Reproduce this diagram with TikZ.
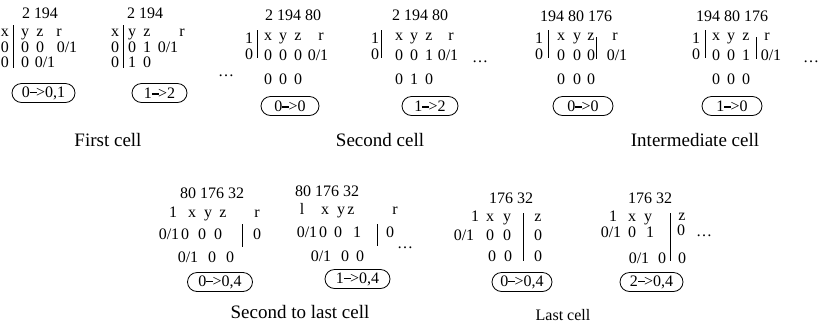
\documentclass[tikz,border=0pt]{standalone}
\usepackage{fontspec}
\setmainfont{Liberation Serif}
\newcommand\myarr{\rule[0.23em]{0.42em}{0.1em}\kern-0.4pt>}
\begin{document}
\begin{tikzpicture}[x=1pt,y=-1pt,
 t/.style={inner sep=0pt,anchor=base,font=\fontsize{16}{16}\selectfont},
 captext/.style={inner sep=0pt,anchor=base,font=\fontsize{19}{19}\selectfont},
 capsm/.style={inner sep=0pt,anchor=base,font=\fontsize{16}{16}\selectfont},
 oval/.style={draw,line width=0.8pt,rounded corners=9.5pt,minimum height=19pt,inner sep=0pt,font=\fontsize{16}{16}\selectfont},
 bar/.style={line width=0.8pt}]
\useasboundingbox (0,0) rectangle (828,325);
% ---------- First cell, left
\node[t] (Ah) at (40,18) {2 194};
\node[t] (Ax) at (5,36) {x};
\node[t] (Ay) at (25,36) {y};
\node[t] (Az) at (40,36) {z};
\node[t] (Ar) at (59,36) {r};
\node[t] (A20) at (5,52) {0};
\node[t] (A21) at (25,52) {0};
\node[t] (A22) at (40,52) {0};
\node[t] (A23) at (67,52) {0/1};
\node[t] (A30) at (5,67) {0};
\node[t] (A31) at (25,67) {0};
\node[t] (A32) at (45,67) {0/1};
\draw[bar] (13,25) -- (13,68);
\node[oval,minimum width=63pt] (Ao) at (43.5,93) {0\myarr0,1};
% ---------- First cell, right
\node[t] (Bh) at (145,18) {2 194};
\node[t] (Bx) at (115,36) {x};
\node[t] (By) at (132,36) {y};
\node[t] (Bz) at (147,36) {z};
\node[t] (Br) at (182,36) {r};
\node[t] (B20) at (115,52) {0};
\node[t] (B21) at (132,52) {0};
\node[t] (B22) at (147,52) {1};
\node[t] (B23) at (168,52) {0/1};
\node[t] (B30) at (115,67) {0};
\node[t] (B31) at (132,67) {1};
\node[t] (B32) at (147,67) {0};
\draw[bar] (123,25) -- (123,68);
\node[oval,minimum width=55pt] (Bo) at (159.5,93) {1\myarr2};
\node[t] (Bd) at (226,76) {\dots};
\node[captext] (cA) at (108,146) {First cell};
% ---------- Second cell, left
\node[t] (Ch) at (293,20) {2 194 80};
\node[t] (Cl) at (249,43) {1};
\node[t] (Cm) at (249,59) {0};
\draw[bar] (257,30) -- (257,58);
\node[t] (Cx) at (268,40) {x};
\node[t] (Cy) at (283,40) {y};
\node[t] (Cz) at (298,40) {z};
\node[t] (Cr) at (321,40) {r};
\node[t] (C20) at (268,60) {0};
\node[t] (C21) at (283,60) {0};
\node[t] (C22) at (298,60) {0};
\node[t] (C23) at (318,60) {0/1};
\node[t] (C30) at (268,84) {0};
\node[t] (C31) at (283,84) {0};
\node[t] (C32) at (298,84) {0};
\node[oval,minimum width=58pt] (Co) at (290,106) {0\myarr0};
% ---------- Second cell, right
\node[t] (Dh) at (420,20) {2 194 80};
\node[t] (Dl) at (375,43) {1};
\node[t] (Dm) at (375,59) {0};
\draw[bar] (381,30) -- (381,58);
\node[t] (Dx) at (399,40) {x};
\node[t] (Dy) at (414,40) {y};
\node[t] (Dz) at (429,40) {z};
\node[t] (Dr) at (451,40) {r};
\node[t] (D20) at (399,60) {0};
\node[t] (D21) at (414,60) {0};
\node[t] (D22) at (429,60) {1};
\node[t] (D23) at (448,60) {0/1};
\node[t] (D30) at (399,84) {0};
\node[t] (D31) at (414,84) {1};
\node[t] (D32) at (429,84) {0};
\node[t] (Dd) at (480,62) {\dots};
\node[oval,minimum width=56pt] (Do) at (430,106) {1\myarr2};
\node[captext] (cB) at (380,146) {Second cell};
% ---------- Intermediate cell, left
\node[t] (Eh) at (576,21) {194 80 176};
\node[t] (El) at (539,43) {1};
\node[t] (Em) at (539,59) {0};
\draw[bar] (548,30) -- (548,58);
\node[t] (Ex) at (561,40) {x};
\node[t] (Ey) at (577,40) {y};
\node[t] (Ez) at (591,40) {z};
\draw[bar] (596,37) -- (596,59);
\node[t] (Er) at (615,40) {r};
\node[t] (E20) at (561,60) {0};
\node[t] (E21) at (577,60) {0};
\node[t] (E22) at (591,60) {0};
\node[t] (E23) at (617,60) {0/1};
\node[t] (E30) at (561,84) {0};
\node[t] (E31) at (577,84) {0};
\node[t] (E32) at (591,84) {0};
\node[oval,minimum width=60pt] (Eo) at (583,106) {0\myarr0};
% ---------- Intermediate cell, right
\node[t] (Fh) at (732,21) {194 80 176};
\node[t] (Fl) at (696,43) {1};
\node[t] (Fm) at (696,59) {0};
\draw[bar] (705,30) -- (705,58);
\node[t] (Fx) at (716,40) {x};
\node[t] (Fy) at (731,40) {y};
\node[t] (Fz) at (746,40) {z};
\draw[bar] (756,37) -- (756,59);
\node[t] (Fr) at (767,40) {r};
\node[t] (F20) at (716,60) {0};
\node[t] (F21) at (731,60) {0};
\node[t] (F22) at (746,60) {1};
\node[t] (F23) at (771,60) {0/1};
\node[t] (F30) at (716,84) {0};
\node[t] (F31) at (731,84) {0};
\node[t] (F32) at (746,84) {0};
\node[t] (Fd) at (811,62) {\dots};
\node[oval,minimum width=60pt] (Fo) at (732,106) {1\myarr0};
\node[captext] (cC) at (695,146) {Intermediate cell};
% ---------- Second to last cell, left
\node[t] (Gh) at (212,198) {80 176 32};
\node[t] (Gl) at (173,217) {1};
\node[t] (Gx) at (192,217) {x};
\node[t] (Gy) at (208,217) {y};
\node[t] (Gz) at (223,217) {z};
\node[t] (Gr) at (257,217) {r};
\node[t] (G20) at (169,239) {0/1};
\node[t] (G21) at (185,239) {0};
\node[t] (G22) at (202,239) {0};
\node[t] (G23) at (218,239) {0};
\draw[bar] (242,224) -- (242,247);
\node[t] (G24) at (257,239) {0};
\node[t] (G30) at (188,262) {0/1};
\node[t] (G31) at (212,262) {0};
\node[t] (G32) at (230,262) {0};
\node[oval,minimum width=65pt] (Go) at (220,282) {0\myarr0,4};
% ---------- Second to last cell, right
\node[t] (Hh) at (327,196) {80 176 32};
\node[t] (Hl) at (302,214) {l};
\node[t] (Hx) at (325,214) {x};
\node[t] (Hy) at (341,214) {y};
\node[t] (Hz) at (351,214) {z};
\node[t] (Hr) at (395,214) {r};
\node[t] (H20) at (307,237) {0/1};
\node[t] (H21) at (323,237) {0};
\node[t] (H22) at (338,237) {0};
\node[t] (H23) at (357,237) {1};
\draw[bar] (377,224) -- (377,246);
\node[t] (H24) at (390,237) {0};
\node[t] (Hd) at (405,248) {\dots};
\node[t] (H30) at (321,261) {0/1};
\node[t] (H31) at (345,261) {0};
\node[t] (H32) at (360,261) {0};
\node[oval,minimum width=65pt] (Ho) at (357.5,279) {1\myarr0,4};
\node[captext] (cD) at (300,318) {Second to last cell};
% ---------- Last cell, left
\node[t] (Ih) at (511,203) {176 32};
\node[t] (Il) at (475,221) {1};
\node[t] (Ix) at (490,221) {x};
\node[t] (Iy) at (507,221) {y};
\node[t] (Iz) at (538,221) {z};
\node[t] (I20) at (464,240) {0/1};
\node[t] (I21) at (490,240) {0};
\node[t] (I22) at (507,240) {0};
\node[t] (I23) at (538,240) {0};
\node[t] (I30) at (492,261) {0};
\node[t] (I31) at (508,261) {0};
\node[t] (I32) at (538,261) {0};
\draw[bar] (523,213) -- (523,261);
\node[oval,minimum width=60pt] (Io) at (522,282) {0\myarr0,4};
% ---------- Last cell, right
\node[t] (Jh) at (650,203) {176 32};
\node[t] (Jl) at (613,221) {1};
\node[t] (Jx) at (632,221) {x};
\node[t] (Jy) at (648,221) {y};
\node[t] (Jz) at (682,220) {z};
\node[t] (J20) at (611,237) {0/1};
\node[t] (J21) at (632,237) {0};
\node[t] (J22) at (650,237) {1};
\node[t] (J23) at (681,235) {0};
\node[t] (Jd) at (704,236) {\dots};
\node[t] (J30) at (639,263) {0/1};
\node[t] (J31) at (662,263) {0};
\node[t] (J32) at (682,263) {0};
\draw[bar] (670,213) -- (670,261);
\node[oval,minimum width=63pt] (Jo) at (651.5,282) {2\myarr0,4};
\node[capsm] (cE) at (563,320) {Last cell};
\end{tikzpicture}
\end{document}
